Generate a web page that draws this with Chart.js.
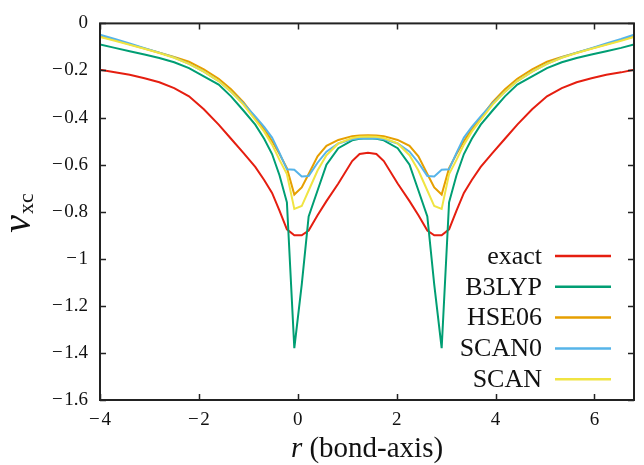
<!DOCTYPE html>
<html>
<head>
<meta charset="utf-8">
<script src="https://cdn.jsdelivr.net/npm/chart.js@4"></script>
<style>
  html, body { margin: 0; padding: 0; background: #fff; }
  #wrap { width: 644px; height: 465px; }
</style>
</head>
<body>
<div id="wrap"><canvas id="vxc" width="644" height="465"></canvas></div>
<script>
// positions along the bond axis
const r_points = [-4, -3.7, -3.4, -3.1, -2.8, -2.5, -2.2, -1.9, -1.6, -1.35, -1.1, -0.86, -0.68, -0.52, -0.37, -0.22, -0.07, 0.08, 0.22, 0.4, 0.58, 0.82, 1.1, 1.25,
  1.42,
  1.59, 1.74, 2.02, 2.26, 2.44, 2.62, 2.76, 2.91, 3.06, 3.21, 3.36, 3.52, 3.70, 3.94, 4.19, 4.44, 4.74, 5.04, 5.34, 5.64, 5.94, 6.24, 6.54, 6.8];

const exact = [-0.197, -0.208, -0.218, -0.233, -0.25, -0.275, -0.31, -0.365, -0.43, -0.49, -0.55, -0.61, -0.665, -0.72, -0.795, -0.875, -0.90, -0.90, -0.88, -0.815, -0.755, -0.68, -0.585, -0.555,
  -0.55,
  -0.555, -0.585, -0.68, -0.755, -0.815, -0.88, -0.90, -0.90, -0.875, -0.795, -0.72, -0.665, -0.61, -0.55, -0.49, -0.43, -0.365, -0.31, -0.275, -0.25, -0.233, -0.218, -0.208, -0.197];

const b3lyp = [-0.09, -0.104, -0.118, -0.132, -0.147, -0.165, -0.19, -0.225, -0.26, -0.31, -0.37, -0.43, -0.49, -0.555, -0.645, -0.76, -1.38, -1.11, -0.82, -0.71, -0.60, -0.53, -0.497, -0.49,
  -0.488,
  -0.49, -0.497, -0.53, -0.60, -0.71, -0.82, -1.11, -1.38, -0.76, -0.645, -0.555, -0.49, -0.43, -0.37, -0.31, -0.26, -0.225, -0.19, -0.165, -0.147, -0.132, -0.118, -0.104, -0.09];

const hse06 = [-0.055, -0.071, -0.089, -0.107, -0.125, -0.143, -0.163, -0.195, -0.235, -0.28, -0.335, -0.40, -0.45, -0.50, -0.555, -0.615, -0.727, -0.697, -0.64, -0.565, -0.52, -0.495, -0.479, -0.476,
  -0.475,
  -0.476, -0.479, -0.495, -0.52, -0.565, -0.64, -0.697, -0.727, -0.615, -0.555, -0.50, -0.45, -0.40, -0.335, -0.28, -0.235, -0.195, -0.163, -0.143, -0.125, -0.107, -0.089, -0.071, -0.055];

const scan0 = [-0.048, -0.066, -0.085, -0.105, -0.124, -0.145, -0.172, -0.205, -0.245, -0.29, -0.34, -0.395, -0.44, -0.485, -0.55, -0.62, -0.622, -0.65, -0.648, -0.592, -0.545, -0.51, -0.492, -0.489,
  -0.488,
  -0.489, -0.492, -0.51, -0.545, -0.592, -0.648, -0.65, -0.622, -0.62, -0.55, -0.485, -0.44, -0.395, -0.34, -0.29, -0.245, -0.205, -0.172, -0.145, -0.124, -0.105, -0.085, -0.066, -0.048];

const scan = [-0.058, -0.074, -0.091, -0.108, -0.126, -0.146, -0.172, -0.205, -0.245, -0.29, -0.345, -0.41, -0.46, -0.515, -0.58, -0.64, -0.788, -0.776, -0.71, -0.625, -0.56, -0.51, -0.487, -0.482,
  -0.481,
  -0.482, -0.487, -0.51, -0.56, -0.625, -0.71, -0.776, -0.788, -0.64, -0.58, -0.515, -0.46, -0.41, -0.345, -0.29, -0.245, -0.205, -0.172, -0.146, -0.126, -0.108, -0.091, -0.074, -0.058];

const seriesNames = ['exact', 'B3LYP', 'HSE06', 'SCAN0', 'SCAN'];
const seriesValues = [exact, b3lyp, hse06, scan0, scan];
const seriesColors = ['#e51e10', '#009e73', '#e69f00', '#56b4e9', '#f0e442'];

const xTicks = [-4, -2, 0, 2, 4, 6];
const yTicks = [-1.6, -1.4, -1.2, -1.0, -0.8, -0.6, -0.4, -0.2, 0];

const SERIF = "'Liberation Serif', 'Times New Roman', serif";
const INK = '#111';

function fmtTick(v) {
  if (Math.abs(v) < 1e-9) return '0';
  const s = String(Math.abs(Number(v.toFixed(1))));
  return (v < 0 ? '\u2212\u200a' : '') + s;
}

// gnuplot style box with inward ticks on all four sides
const frame = {
  id: 'frame',
  afterDatasetsDraw(chart) {
    const { ctx, chartArea: a, scales } = chart;
    const t = 6;
    ctx.save();
    ctx.strokeStyle = '#222';
    ctx.lineWidth = 1.5;
    ctx.beginPath();
    xTicks.forEach(v => {
      const px = Math.round(scales.x.getPixelForValue(v)) + 0.5;
      ctx.moveTo(px, a.bottom); ctx.lineTo(px, a.bottom - t);
      ctx.moveTo(px, a.top); ctx.lineTo(px, a.top + t);
    });
    yTicks.forEach(v => {
      const py = Math.round(scales.y.getPixelForValue(v)) + 0.5;
      ctx.moveTo(a.left, py); ctx.lineTo(a.left + t, py);
      ctx.moveTo(a.right, py); ctx.lineTo(a.right - t, py);
    });
    ctx.stroke();
    ctx.lineWidth = 2;
    ctx.strokeRect(a.left, a.top, a.right - a.left, a.bottom - a.top);
    ctx.restore();
  }
};

const keyBox = {
  id: 'keyBox',
  afterDraw(chart) {
    const { ctx, chartArea: a } = chart;
    const textRight = a.right - 92;
    const lineL = a.right - 79, lineR = a.right - 23;
    const y0 = 256, step = 30.8;
    ctx.save();
    ctx.font = '26px ' + SERIF;
    ctx.textAlign = 'right';
    ctx.textBaseline = 'middle';
    chart.data.datasets.forEach((ds, i) => {
      const y = y0 + i * step;
      ctx.fillStyle = INK;
      ctx.fillText(ds.label, textRight, y + 1);
      ctx.strokeStyle = ds.borderColor;
      ctx.lineWidth = 2.5;
      ctx.beginPath();
      ctx.moveTo(lineL, y); ctx.lineTo(lineR, y);
      ctx.stroke();
    });
    ctx.restore();
  }
};

const axisTitles = {
  id: 'axisTitles',
  afterDraw(chart) {
    const { ctx, chartArea: a } = chart;
    ctx.save();
    ctx.fillStyle = INK;
    ctx.textBaseline = 'alphabetic';
    ctx.textAlign = 'left';
    // x title: italic r, then upright text
    const fIt = 'italic 29px ' + SERIF, fUp = '29px ' + SERIF;
    ctx.font = fIt; const w1 = ctx.measureText('r').width;
    ctx.font = fUp; const rest = ' (bond-axis)'; const w2 = ctx.measureText(rest).width;
    let x = (a.left + a.right) / 2 - (w1 + w2) / 2;
    const base = 457;
    ctx.font = fIt; ctx.fillText('r', x, base);
    ctx.font = fUp; ctx.fillText(rest, x + w1, base);
    // y title: v with xc subscript
    ctx.translate(30, 213);
    ctx.rotate(-Math.PI / 2);
    ctx.font = 'italic 40px ' + SERIF; const wv = ctx.measureText('v').width;
    ctx.font = '22px ' + SERIF; const ws = ctx.measureText('xc').width;
    const sx = -(wv + ws + 1) / 2;
    ctx.font = 'italic 40px ' + SERIF; ctx.fillText('v', sx, 0);
    ctx.font = '22px ' + SERIF; ctx.fillText('xc', sx + wv + 1, 3);
    ctx.restore();
  }
};

const ctx = document.getElementById('vxc').getContext('2d');

new Chart(ctx, {
  type: 'line',
  data: {
    datasets: seriesNames.map((name, i) => ({
      label: name,
      data: r_points.map((r, k) => ({ x: r, y: seriesValues[i][k] })),
      borderColor: seriesColors[i],
      backgroundColor: seriesColors[i],
      borderWidth: 2,
      pointRadius: 0,
      tension: 0,
      fill: false,
      order: seriesNames.length - i
    }))
  },
  options: {
    responsive: false,
    animation: false,
    devicePixelRatio: 1,
    layout: { padding: { top: 16, right: 10, left: 0, bottom: 0 } },
    plugins: { legend: { display: false }, tooltip: { enabled: false } },
    scales: {
      x: {
        type: 'linear', min: -4, max: 6.8,
        grid: { display: false, drawTicks: false },
        border: { display: false },
        afterBuildTicks: s => { s.ticks = xTicks.map(v => ({ value: v })); },
        afterFit: s => { s.height = 65; },
        ticks: { font: { family: SERIF, size: 19 }, color: INK, padding: 9, maxRotation: 0, callback: fmtTick }
      },
      y: {
        type: 'linear', min: -1.6, max: 0,
        grid: { display: false, drawTicks: false },
        border: { display: false },
        afterBuildTicks: s => { s.ticks = yTicks.map(v => ({ value: v })); },
        afterFit: s => { s.width = 100; },
        ticks: { font: { family: SERIF, size: 19 }, color: INK, padding: 12, callback: fmtTick }
      }
    }
  },
  plugins: [frame, keyBox, axisTitles]
});
</script>
</body>
</html>
